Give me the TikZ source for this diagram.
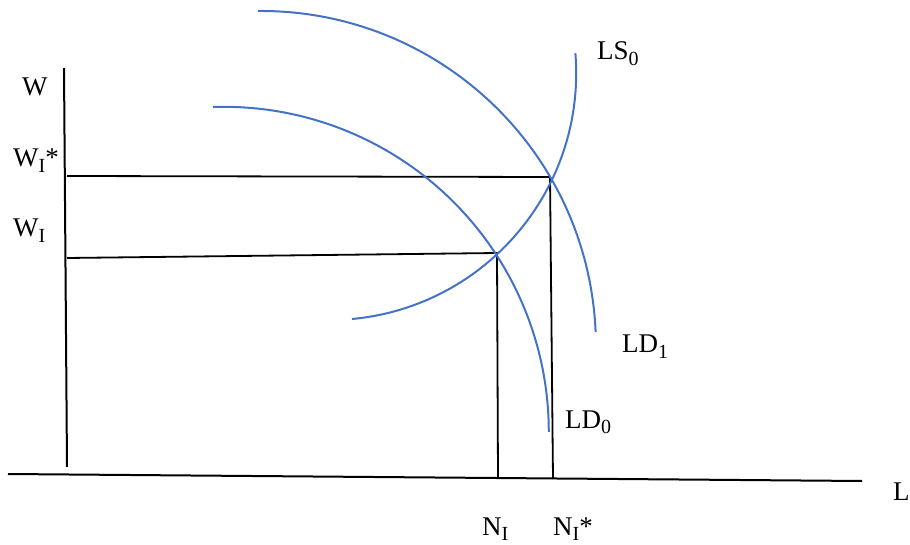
\documentclass[tikz,border=0pt]{standalone}
\usepackage{fontspec}
\setmainfont{Liberation Serif}
\usepackage{xcolor}
\usetikzlibrary{positioning, calc}
\definecolor{cCurve}{RGB}{68,114,196}
\newcommand{\lsub}[1]{\raisebox{-0.22em}{\fontsize{20}{22}\selectfont #1}}
\tikzset{
	axis/.style    ={line width=2pt, black},
	guide/.style   ={line width=1.8pt, black},
	curve/.style   ={line width=2pt, cCurve},
	lbl/.style     ={anchor=base west, inner sep=0pt, font=\fontsize{27}{30}\selectfont},
}

\begin{document}
\begin{tikzpicture}[x=1pt, y=1pt]
	\useasboundingbox (0,0) rectangle (910,544);
	% axes
	\coordinate (Wtop) at (64,476);
	\coordinate (Wbot) at (67,77);
	\coordinate (Lleft) at (8,70);
	\coordinate (Lright) at (862,63);
	\draw[axis] (Wtop) -- (Wbot);
	\draw[axis] (Lleft) -- (Lright);
	% equilibrium points and their feet
	\coordinate (E0) at (497,291);
	\coordinate (E1) at (550,367);
	\coordinate (W0) at (67,286);
	\coordinate (W1) at (67,368);
	\coordinate (N0) at (498,66);
	\coordinate (N1) at (553,65);
	\draw[guide] (W1) -- (E1) -- (N1);
	\draw[guide] (W0) -- (E0) -- (N0);
	% curves
	\draw[curve] (213,437) arc[start angle=91.9, end angle=0, radius=325];
	\draw[curve] (258,533) arc[start angle=90.5, end angle=2.4, radius=335];
	\draw[curve] (352,225) arc[start angle=-84.7, end angle=4.6, radius=247];
	% labels
	\node[lbl] (lW)   at (22,448)  {W};
	\node[lbl] (lW1)  at (13,377)  {W\lsub{I}*};
	\node[lbl] (lW0)  at (13,307)  {W\lsub{I}};
	\node[lbl] (lLS)  at (597,484) {LS\lsub{0}};
	\node[lbl] (lLD1) at (622,191) {LD\lsub{1}};
	\node[lbl] (lLD0) at (565,116) {LD\lsub{0}};
	\node[lbl] (lL)   at (893,44)  {L};
	\node[lbl] (lN0)  at (482,9)   {N\lsub{I}};
	\node[lbl] (lN1)  at (553,9)   {N\lsub{I}*};
\end{tikzpicture}
\end{document}
